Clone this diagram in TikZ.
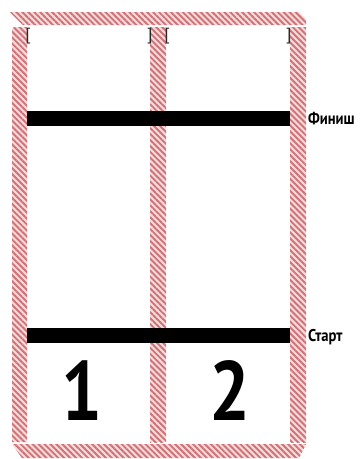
\documentclass[tikz,border=0pt]{standalone}
\usepackage{fontspec}
\setmainfont{Liberation Sans}
\newfontfamily\condfont[FakeStretch=0.86]{PT Sans}
\usetikzlibrary{patterns.meta}
\definecolor{stripebg}{RGB}{248,218,218}
\definecolor{stripefg}{RGB}{205,115,120}
\definecolor{brk}{RGB}{40,40,40}
\tikzset{
  strip/.style={fill=stripebg,draw=none},
  stripelines/.style={pattern={Lines[angle=-45,distance=4.2pt,line width=1.9pt]},pattern color=stripefg},
  bar/.style={fill=black,draw=none},
  digit/.style={inner sep=0pt,font=\condfont\bfseries\fontsize{84}{84}\selectfont},
  lbl/.style={anchor=west,inner sep=0pt,font=\condfont\bfseries\fontsize{17}{17}\selectfont},
  bracket/.style={inner sep=0pt,text=brk,font=\fontsize{17}{17}\selectfont}
}
\begin{document}
\begin{tikzpicture}[x=1pt,y=-1pt]
\useasboundingbox (0,0) rectangle (362,459);
\fill[white] (0,0) rectangle (362,459);
% hatched frame strips
\foreach \p in {
  {(10,12) -- (299,12) -- (306,19) -- (306,25) -- (23,25) -- cycle},
  {(12,29) -- (14,27) -- (27,27) -- (27,442) -- (12,442) -- cycle},
  {(150,27) -- (166,27) -- (166,442) -- (150,442) -- cycle},
  {(290,27) -- (306,27) -- (306,442) -- (290,442) -- cycle},
  {(12,444) -- (306,444) -- (299,458) -- (22,458) -- cycle}}{
  \fill[strip] \p;
  \fill[stripelines] \p;
}
% bars
\fill[bar] (27,111) rectangle (290,126);
\fill[bar] (27,328) rectangle (290,343);
% brackets
\node[bracket] (b1) at (28,36) {[};
\node[bracket] (b2) at (150,36) {]};
\node[bracket] (b3) at (167,36) {[};
\node[bracket] (b4) at (289,36) {]};
% digits
\node[digit] (one) at (82,391) {1};
\node[digit] (two) at (230,391) {2};
% labels
\node[lbl] (finish) at (308,119) {Финиш};
\node[lbl] (start) at (308,337) {Старт};
\end{tikzpicture}
\end{document}
